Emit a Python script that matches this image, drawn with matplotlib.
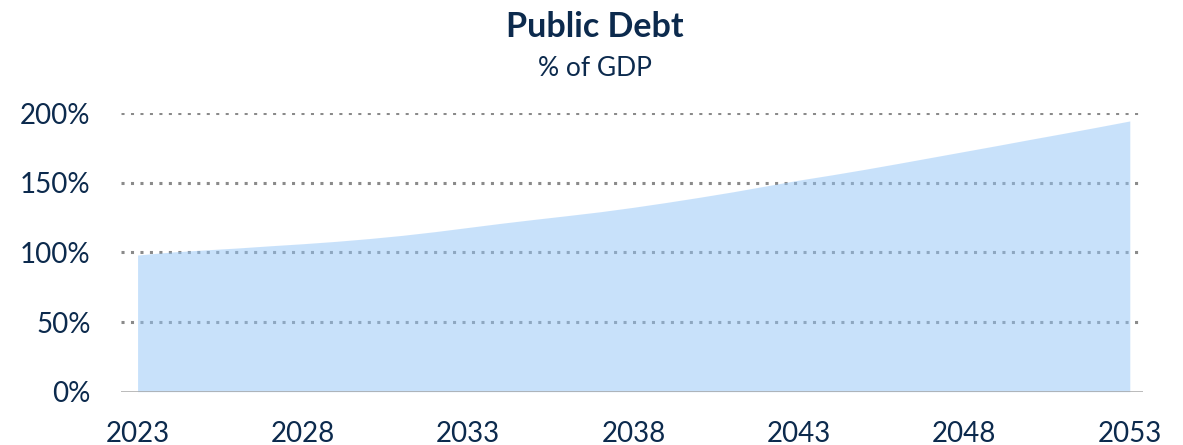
import matplotlib
matplotlib.use("Agg")
import matplotlib.pyplot as plt

# Public debt projection, % of GDP
years = list(range(2023, 2054))
debt = [98.2, 100.3, 101.8, 103.2, 104.8, 106.3, 108.0, 110.0, 112.3, 115.0,
        118.0, 121.0, 123.8, 126.5, 129.3, 132.5, 136.0, 139.7, 143.6, 147.8,
        152.0, 155.8, 159.8, 164.0, 168.3, 172.6, 176.9, 181.3, 185.6, 190.0,
        194.5]
x_ticks = [2023, 2028, 2033, 2038, 2043, 2048, 2053]
y_ticks = [0, 50, 100, 150, 200]
y_tick_labels = [f"{v}%" for v in y_ticks]

navy = "#0c2a4d"
plt.rcParams["font.family"] = ["Lato", "DejaVu Sans"]

fig = plt.figure(figsize=(11.83, 4.45), dpi=100)
ax = fig.add_axes([0.1023, 0.1198, 0.8639, 0.6256])

# Dotted gridlines, solid baseline
for v in y_ticks[1:]:
    ax.axhline(v, color="#8a8a8a", lw=2.2, linestyle=(0, (1, 2.1)),
               dash_capstyle="butt", zorder=1)
ax.axhline(0, color="#a6a6a6", lw=1.8, zorder=3)

ax.fill_between(years, debt, 0, color="#93c5f7", alpha=0.5, lw=0, zorder=2)

ax.set_xlim(2022.5, 2053.4)
ax.set_ylim(0, 200)
ax.set_xticks(x_ticks)
ax.set_xticklabels([str(t) for t in x_ticks])
ax.set_yticks(y_ticks)
ax.set_yticklabels(y_tick_labels)
ax.tick_params(axis="both", length=0, labelsize=20, colors=navy)
ax.tick_params(axis="y", pad=22)
ax.tick_params(axis="x", pad=21)
for s in ax.spines.values():
    s.set_visible(False)

fig.text(0.503, 1 - 37 / 445, "Public Debt", ha="center", va="baseline",
         fontsize=24.5, fontweight="bold", color=navy)
fig.text(0.503, 1 - 76 / 445, "% of GDP", ha="center", va="baseline",
         fontsize=19, color=navy)

fig.savefig("out.png", dpi=100)
